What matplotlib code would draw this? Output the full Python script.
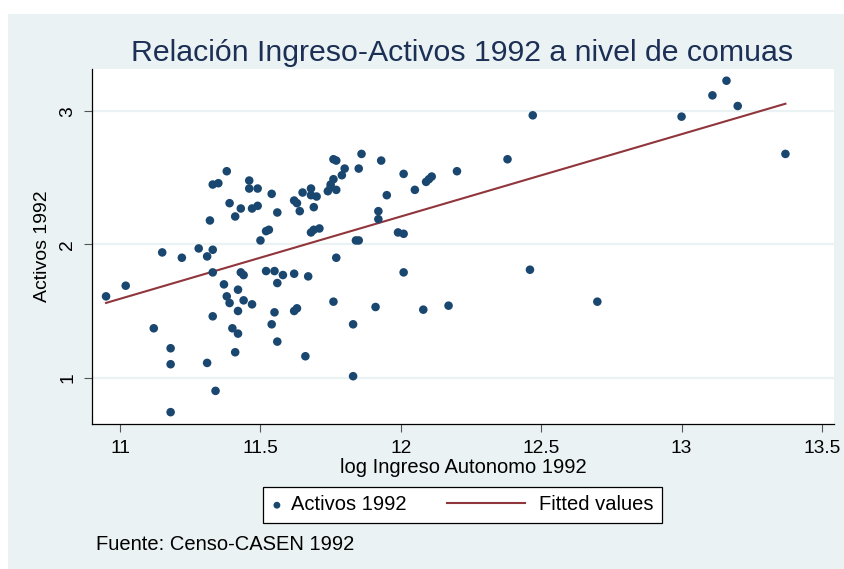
import numpy as np
import matplotlib
matplotlib.use('Agg')
import matplotlib.pyplot as plt
from matplotlib.patches import Rectangle
from matplotlib.lines import Line2D
from matplotlib.legend_handler import HandlerLine2D

# datos (comunas 1992)
log_ingreso = [11.38, 11.33, 11.35, 11.46, 11.46, 11.49, 11.54, 11.39, 11.43, 11.47,
               11.49, 11.56, 11.41, 11.32, 11.52, 11.53, 11.50, 11.15, 11.22, 11.28,
               11.33, 11.31, 11.33, 11.43, 11.44, 11.52, 11.55, 11.58, 11.56, 11.02,
               11.37, 11.42, 10.95, 11.38, 11.39, 11.44, 11.47, 11.55, 11.42, 11.33,
               11.54, 11.12, 11.40, 11.42, 11.56, 11.18, 11.41, 11.18, 11.31, 11.34,
               11.18, 11.86, 11.76, 11.77, 11.93, 11.80, 11.85, 11.79, 12.01, 12.20,
               12.11, 12.10, 12.09, 11.76, 11.75, 11.75, 11.74, 11.77, 11.65, 11.68,
               11.68, 11.70, 12.05, 11.95, 11.62, 11.63, 11.69, 11.64, 11.92, 11.92,
               11.68, 11.69, 11.71, 11.84, 11.85, 11.99, 12.01, 11.77, 11.62, 11.67,
               12.01, 11.76, 11.62, 11.63, 11.91, 12.08, 12.17, 11.83, 11.66, 11.83,
               13.11, 13.20, 12.47, 13.00, 12.38, 13.37, 12.46, 12.70, 13.16]
activos = [2.55, 2.45, 2.46, 2.48, 2.42, 2.42, 2.38, 2.31, 2.27, 2.27,
           2.29, 2.24, 2.21, 2.18, 2.10, 2.11, 2.03, 1.94, 1.90, 1.97,
           1.96, 1.91, 1.79, 1.79, 1.77, 1.80, 1.80, 1.77, 1.71, 1.69,
           1.70, 1.66, 1.61, 1.61, 1.56, 1.58, 1.55, 1.49, 1.50, 1.46,
           1.40, 1.37, 1.37, 1.33, 1.27, 1.22, 1.19, 1.10, 1.11, 0.90,
           0.74, 2.68, 2.64, 2.63, 2.63, 2.57, 2.57, 2.52, 2.53, 2.55,
           2.51, 2.49, 2.47, 2.49, 2.45, 2.43, 2.40, 2.41, 2.39, 2.42,
           2.37, 2.36, 2.41, 2.37, 2.33, 2.31, 2.28, 2.25, 2.25, 2.19,
           2.09, 2.11, 2.12, 2.03, 2.03, 2.09, 2.08, 1.90, 1.78, 1.76,
           1.79, 1.57, 1.50, 1.52, 1.53, 1.51, 1.54, 1.40, 1.16, 1.01,
           3.12, 3.04, 2.97, 2.96, 2.64, 2.68, 1.81, 1.57, 3.23]
x_ticks = [11, 11.5, 12, 12.5, 13, 13.5]
x_ticklabels = ['11', '11.5', '12', '12.5', '13', '13.5']
y_ticks = [1, 2, 3]

titulo = 'Relación Ingreso-Activos 1992 a nivel de comuas'
fuente = 'Fuente: Censo-CASEN 1992'

fondo = '#EAF2F3'
azul = '#1a476f'
rojo = '#90353b'

plt.rcParams['font.family'] = ['Liberation Sans', 'DejaVu Sans']

# recta ajustada (lfit)
x = np.array(log_ingreso)
y = np.array(activos)
b, a = np.polyfit(x, y, 1)
x_fit = np.array([x.min(), x.max()])
y_fit = a + b * x_fit


class LineaLarga(HandlerLine2D):
    # la linea de la leyenda se extiende hacia la izquierda (estilo Stata)
    def create_artists(self, legend, orig_handle, xdescent, ydescent,
                       width, height, fontsize, trans):
        yc = height / 2 - ydescent
        x1 = -xdescent + width - 0.3 * fontsize
        x0 = x1 - 3.9 * fontsize
        ln = Line2D([x0, x1], [yc, yc])
        self.update_prop(ln, orig_handle, legend)
        ln.set_transform(trans)
        return [ln]


fig = plt.figure(figsize=(8.44, 5.69), dpi=100, facecolor=fondo)
fig.patches.append(Rectangle((0, 1 - 14 / 569), 1, 14 / 569, transform=fig.transFigure,
                             facecolor='white', edgecolor='none', zorder=-1))
fig.patches.append(Rectangle((0, 0), 8 / 844, 1, transform=fig.transFigure,
                             facecolor='white', edgecolor='none', zorder=-1))

ax = fig.add_axes([92.3 / 844, 1 - 424 / 569, (834 - 92.3) / 844, 355 / 569])
ax.set_facecolor('white')

for t in y_ticks:
    ax.axhline(t, color=fondo, lw=1.6, zorder=0)

sc = ax.scatter(x, y, s=38, color=azul, edgecolors='none', zorder=3, label='Activos 1992')
ln, = ax.plot(x_fit, y_fit, color=rojo, lw=1.5, zorder=2, label='Fitted values')

ax.set_xlim(10.901, 13.543)
ax.set_ylim(0.651, 3.318)
ax.set_xticks(x_ticks)
ax.set_xticklabels(x_ticklabels)
ax.set_yticks(y_ticks)

for s in ['top', 'right']:
    ax.spines[s].set_visible(False)
for s in ['left', 'bottom']:
    ax.spines[s].set_color('black')
    ax.spines[s].set_linewidth(0.9)

ax.tick_params(direction='out', length=5.6, width=0.8, color='#555555',
               labelsize=13.8, labelcolor='black')
ax.tick_params(axis='x', pad=6)
ax.tick_params(axis='y', pad=6, labelrotation=90)
for lab in ax.get_yticklabels():
    lab.set_va('center')

ax.set_xlabel('log Ingreso Autonomo 1992', fontsize=14.5, va='center')
ax.xaxis.set_label_coords(0.5, -0.122)
ax.set_ylabel('Activos 1992', fontsize=14, va='center')
ax.yaxis.set_label_coords(-0.067, 0.5)

fig.text(462 / 844, 1 - 61 / 569, titulo, ha='center', va='baseline',
         fontsize=21.8, color='#1c2f55')
fig.text(96 / 844, 1 - 550 / 569, fuente, ha='left', va='baseline', fontsize=14.5)

leg = fig.legend([sc, ln], ['Activos 1992', 'Fitted values'], loc='center',
                 bbox_to_anchor=(462.4 / 844, 1 - 505 / 569), ncol=2,
                 fontsize=14.5, frameon=True, fancybox=False, framealpha=1,
                 edgecolor='black', borderpad=0.4, handlelength=0.6,
                 handletextpad=0.4, columnspacing=5.6, markerscale=0.8,
                 handler_map={ln: LineaLarga()})
leg.get_frame().set_linewidth(0.9)

fig.savefig('out.png', dpi=100, facecolor=fondo)
